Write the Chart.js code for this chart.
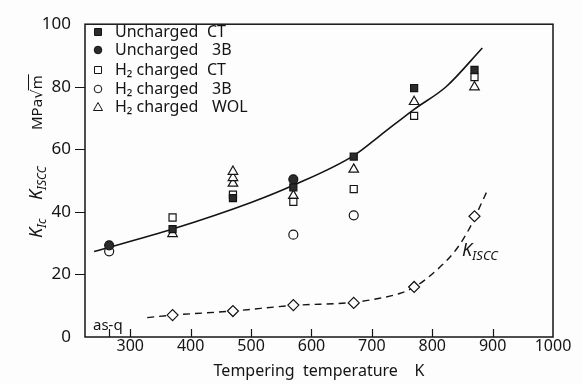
<!DOCTYPE html>
<html>
<head>
<meta charset="utf-8">
<script src="https://cdn.jsdelivr.net/npm/chart.js@4.4.0/dist/chart.umd.min.js"></script>
<style>
  html, body { margin: 0; padding: 0; background: #fdfdfd; }
  canvas { display: block; }
</style>
</head>
<body>
<canvas id="chart" width="582" height="384"></canvas>
<script>
// tempering temperature (K) and toughness (MPa√m)
let ucCtTemp = [370, 470, 570, 670, 770, 870];
let ucCtK = [34.5, 44.4, 47.8, 57.7, 79.6, 85.4];
let uc3bTemp = [265, 570];
let uc3bK = [29.3, 50.4];
let h2CtTemp = [370, 470, 570, 670, 770, 870];
let h2CtK = [38.2, 45.5, 43.2, 47.3, 70.7, 83.1];
let h23bTemp = [265, 570, 670];
let h23bK = [27.4, 32.7, 38.9];
let h2WolTemp = [370, 470, 470, 470, 570, 670, 770, 870];
let h2WolK = [33, 49.1, 50.9, 52.9, 45.2, 53.6, 75.2, 79.9];
let kisccTemp = [370, 470, 570, 670, 770, 870];
let kisccK = [7, 8.3, 10.2, 10.9, 16, 38.6];

// the two hand drawn curves
let kicCurveTemp = [240, 370, 500, 570, 670, 713, 770, 823, 883];
let kicCurveK = [27.3, 34.5, 43, 48.5, 58, 64.3, 72.8, 80, 92.4];
let kisccCurveTemp = [328, 370, 470, 570, 670, 713, 746, 771, 812, 839, 861, 890];
let kisccCurveK = [6.2, 7, 8.3, 10.1, 11.1, 12.4, 13.9, 16, 22.2, 27.8, 34.5, 46.3];

let xTicks = [300, 400, 500, 600, 700, 800, 900, 1000];
let yTicks = [0, 20, 40, 60, 80, 100];

let legendNames = ["Uncharged", "Uncharged", "H₂ charged", "H₂ charged", "H₂ charged"];
let legendTypes = ["CT", "3B", "CT", "3B", "WOL"];

let ink = "#141414";
let fontName = "'Noto Sans', 'DejaVu Sans', sans-serif";

function pts(xs, ys) {
    return xs.map((x, i) => ({ x: x, y: ys[i] }));
}

function marker(data, style, radius, fill) {
    return {
        data: data,
        showLine: false,
        pointStyle: style,
        pointRadius: radius,
        pointBackgroundColor: fill,
        pointBorderColor: ink,
        pointBorderWidth: 1.2
    };
}

let markerSets = [
    marker(pts(ucCtTemp, ucCtK), "rect", 5, "#2b2b2b"),
    marker(pts(uc3bTemp, uc3bK), "circle", 4.5, "#2b2b2b"),
    marker(pts(h2CtTemp, h2CtK), "rect", 5, "#fdfdfd"),
    marker(pts(h23bTemp, h23bK), "circle", 4.5, "#fdfdfd"),
    marker(pts(h2WolTemp, h2WolK), "triangle", 5.5, "#fdfdfd")
];

let background = {
    id: "background",
    beforeDraw(chart) {
        let c = chart.ctx;
        c.save();
        c.fillStyle = "#fdfdfd";
        c.fillRect(0, 0, chart.width, chart.height);
        c.restore();
    }
};

let frame = {
    id: "frame",
    afterDatasetsDraw(chart) {
        let c = chart.ctx;
        let a = chart.chartArea;
        let xs = chart.scales.x;
        let ys = chart.scales.y;
        c.save();
        c.strokeStyle = ink;
        c.lineWidth = 1.5;
        c.strokeRect(a.left, a.top, a.right - a.left, a.bottom - a.top);
        c.lineWidth = 1.2;
        c.beginPath();
        // x ticks point into the plot
        [265].concat(xTicks.slice(0, -1)).forEach(v => {
            let px = Math.round(xs.getPixelForValue(v)) + 0.5;
            c.moveTo(px, a.bottom);
            c.lineTo(px, a.bottom - 8);
        });
        // y ticks point out of it
        yTicks.slice(1, -1).forEach(v => {
            let py = Math.round(ys.getPixelForValue(v)) + 0.5;
            c.moveTo(a.left, py);
            c.lineTo(a.left - 10, py);
        });
        c.stroke();

        // legend inside the plot
        c.font = "16px " + fontName;
        c.fillStyle = ink;
        c.textBaseline = "middle";
        let rows = [32, 50, 70, 89, 107];
        rows.forEach((y, i) => {
            let ds = markerSets[i];
            let x = 98;
            let r = 3.5;
            c.beginPath();
            if (ds.pointStyle === "rect") {
                c.rect(x - r, y - r, 2 * r, 2 * r);
            } else if (ds.pointStyle === "circle") {
                c.arc(x, y, r + 0.3, 0, Math.PI * 2);
            } else {
                c.moveTo(x, y - 4.5);
                c.lineTo(x + 4.5, y + 3.5);
                c.lineTo(x - 4.5, y + 3.5);
                c.closePath();
            }
            c.fillStyle = ds.pointBackgroundColor;
            c.fill();
            c.lineWidth = 1;
            c.stroke();
            c.fillStyle = ink;
            c.fillText(legendNames[i], 115, y);
            c.fillText(legendTypes[i], i === 0 || i === 2 ? 207 : 212, y);
        });

        // y axis title, rotated
        c.translate(42, 238);
        c.rotate(-Math.PI / 2);
        c.textBaseline = "alphabetic";
        let x = 0;
        c.font = "italic 18px " + fontName;
        c.fillText("K", x, 0);
        x += c.measureText("K").width;
        c.font = "italic 12px " + fontName;
        c.fillText("Ic", x, 4);
        x = 38;
        c.font = "italic 18px " + fontName;
        c.fillText("K", x, 0);
        x += c.measureText("K").width;
        c.font = "italic 12px " + fontName;
        c.fillText("ISCC", x, 4);
        x = 108;
        c.font = "15px " + fontName;
        c.fillText("MPa√m", x, 0);
        let mw = c.measureText("m").width;
        let tw = c.measureText("MPa√m").width;
        c.lineWidth = 1;
        c.beginPath();
        c.moveTo(x + tw - mw - 1, -13.5);
        c.lineTo(x + tw + 1, -13.5);
        c.stroke();
        c.restore();

        // curve label and as-quenched note
        c.save();
        c.fillStyle = ink;
        c.textBaseline = "alphabetic";
        c.font = "italic 18px " + fontName;
        c.fillText("K", 462, 256);
        let kw = c.measureText("K").width;
        c.font = "italic 13px " + fontName;
        c.fillText("ISCC", 462 + kw, 260);
        c.font = "15px " + fontName;
        c.fillText("as-q", 93, 330);
        c.restore();
    }
};

let canva = document.getElementById("chart");
let chart = new Chart(canva, {
    type: "scatter",
    data: {
        datasets: markerSets.concat([
            marker(pts(kisccTemp, kisccK), "rectRot", 5.5, "#fdfdfd"),
            {
                data: pts(kicCurveTemp, kicCurveK),
                showLine: true,
                pointRadius: 0,
                borderColor: ink,
                borderWidth: 1.6,
                cubicInterpolationMode: "monotone"
            },
            {
                data: pts(kisccCurveTemp, kisccCurveK),
                showLine: true,
                pointRadius: 0,
                borderColor: ink,
                borderWidth: 1.4,
                borderDash: [7, 5],
                cubicInterpolationMode: "monotone"
            }
        ])
    },
    options: {
        responsive: false,
        animation: false,
        layout: { padding: { top: 12, right: 29, left: 0, bottom: 0 } },
        plugins: {
            legend: { display: false },
            tooltip: { enabled: false }
        },
        scales: {
            x: {
                type: "linear",
                min: 225,
                max: 1000,
                afterBuildTicks: s => { s.ticks = xTicks.map(v => ({ value: v })); },
                afterFit: s => { s.height = 47; },
                grid: { display: false, drawTicks: false },
                border: { display: false },
                ticks: {
                    color: ink,
                    padding: 0,
                    maxRotation: 0,
                    font: { family: fontName, size: 16 },
                    callback: v => String(v)
                },
                title: {
                    display: true,
                    text: "Tempering  temperature    K",
                    color: ink,
                    font: { family: fontName, size: 16 },
                    padding: { top: 0, bottom: 3 }
                }
            },
            y: {
                min: 0,
                max: 100,
                afterBuildTicks: s => { s.ticks = yTicks.map(v => ({ value: v })); },
                afterFit: s => { s.width = 85; },
                grid: { display: false, drawTicks: false },
                border: { display: false },
                ticks: { color: ink, padding: 14, font: { family: fontName, size: 17 } }
            }
        }
    },
    plugins: [background, frame]
});
</script>
</body>
</html>
